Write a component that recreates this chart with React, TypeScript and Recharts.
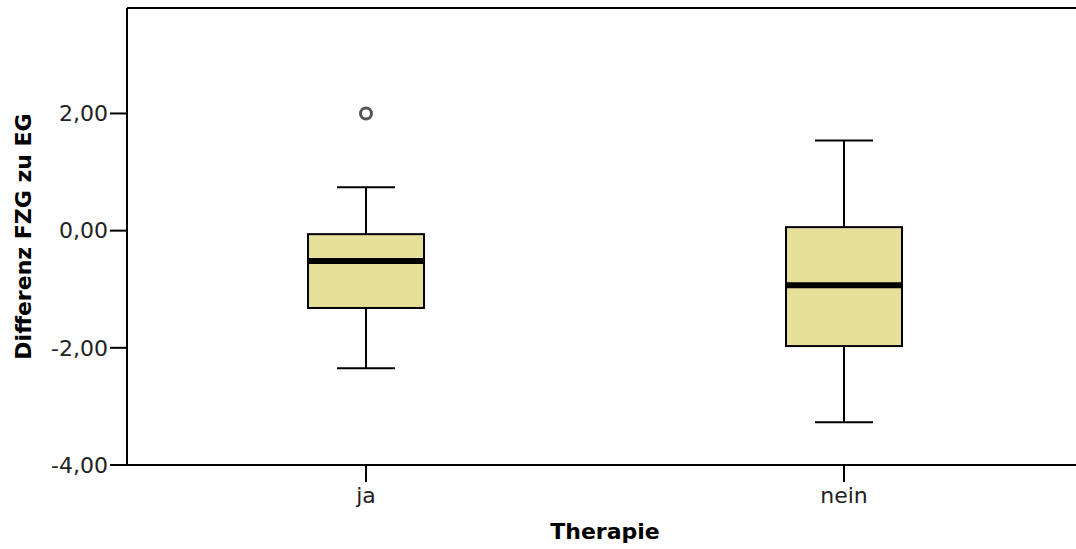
import React from 'react';
import {
    ComposedChart,
    Bar,
    Scatter,
    XAxis,
    YAxis,
    ReferenceLine,
} from 'recharts';

// Boxplot values (Differenz FZG zu EG by Therapie)
const categories = ['ja', 'nein'];
const whiskerLow = [-2.35, -3.27];
const q1 = [-1.32, -1.97];
const median = [-0.52, -0.93];
const q3 = [-0.06, 0.06];
const whiskerHigh = [0.74, 1.54];
const outliers = [2.0, null];

const yTicks = [-4, -2, 0, 2];
const yMin = -4;
const yMax = 3.8;

const BOX_FILL = '#e6e09b';
const FONT = '"DejaVu Sans", Verdana, sans-serif';

const data = categories.map((name, i) => ({
    name,
    range: [whiskerLow[i], whiskerHigh[i]],
    low: whiskerLow[i],
    q1: q1[i],
    median: median[i],
    q3: q3[i],
    high: whiskerHigh[i],
    outlier: outliers[i],
}));

const fmt = (v: number) => v.toFixed(2).replace('.', ',');

// draws the box + whiskers inside the pixel span the Bar gets for [low, high]
const BoxShape = (props: any) => {
    const { x, y, width, height, payload } = props;
    if (!payload || height == null) return null;
    const top = Math.min(y, y + height);
    const span = Math.abs(height);
    const pxPerUnit = span / (payload.high - payload.low);
    const yOf = (v: number) => top + (payload.high - v) * pxPerUnit;
    const cx = x + width / 2;
    const capHalf = width / 4;
    return (
        <g>
            <line x1={cx} x2={cx} y1={yOf(payload.high)} y2={yOf(payload.q3)} stroke="#000" strokeWidth={2} />
            <line x1={cx} x2={cx} y1={yOf(payload.q1)} y2={yOf(payload.low)} stroke="#000" strokeWidth={2} />
            <line x1={cx - capHalf} x2={cx + capHalf} y1={yOf(payload.high)} y2={yOf(payload.high)} stroke="#000" strokeWidth={2} />
            <line x1={cx - capHalf} x2={cx + capHalf} y1={yOf(payload.low)} y2={yOf(payload.low)} stroke="#000" strokeWidth={2} />
            <rect
                x={x}
                y={yOf(payload.q3)}
                width={width}
                height={yOf(payload.q1) - yOf(payload.q3)}
                fill={BOX_FILL}
                stroke="#000"
                strokeWidth={2}
            />
            <line x1={x} x2={x + width} y1={yOf(payload.median)} y2={yOf(payload.median)} stroke="#000" strokeWidth={6} />
        </g>
    );
};

const OutlierShape = (props: any) => {
    const { cx, cy, payload } = props;
    if (!payload || payload.outlier == null || cx == null || cy == null) return null;
    return <circle cx={cx} cy={cy} r={5.5} fill="#fff" stroke="#555" strokeWidth={3} />;
};

export default function App() {
    return (
        <div style={{ position: 'absolute', left: 0, top: 0, width: 1076, height: 549, overflow: 'hidden', background: '#fff' }}>
            <ComposedChart
                width={1090}
                height={549}
                data={data}
                margin={{ top: 8, right: 7, bottom: 0, left: 0 }}
            >
                <XAxis
                    dataKey="name"
                    height={84}
                    axisLine={{ stroke: '#000', strokeWidth: 2 }}
                    tickLine={{ stroke: '#000', strokeWidth: 2 }}
                    tickSize={17}
                    tickMargin={5}
                    tick={{ fill: '#222', fontSize: 22, fontFamily: FONT }}
                    label={{
                        value: 'Therapie',
                        position: 'insideBottom',
                        offset: 10,
                        style: { fill: '#000', fontSize: 22, fontWeight: 'bold', fontFamily: FONT },
                    }}
                />
                <YAxis
                    width={127}
                    domain={[yMin, yMax]}
                    ticks={yTicks}
                    allowDataOverflow
                    tickFormatter={fmt}
                    axisLine={{ stroke: '#000', strokeWidth: 2 }}
                    tickLine={{ stroke: '#000', strokeWidth: 2 }}
                    tickSize={17}
                    tickMargin={2}
                    tick={{ fill: '#222', fontSize: 22, fontFamily: FONT }}
                    label={{
                        value: 'Differenz FZG zu EG',
                        angle: -90,
                        position: 'insideLeft',
                        offset: 23,
                        style: { textAnchor: 'middle', fill: '#000', fontSize: 22, fontWeight: 'bold', fontFamily: FONT },
                    }}
                />
                <ReferenceLine y={yMax} stroke="#000" strokeWidth={2} />
                <Bar dataKey="range" barSize={116} shape={<BoxShape />} isAnimationActive={false} />
                <Scatter dataKey="outlier" shape={<OutlierShape />} isAnimationActive={false} />
            </ComposedChart>
        </div>
    );
}
